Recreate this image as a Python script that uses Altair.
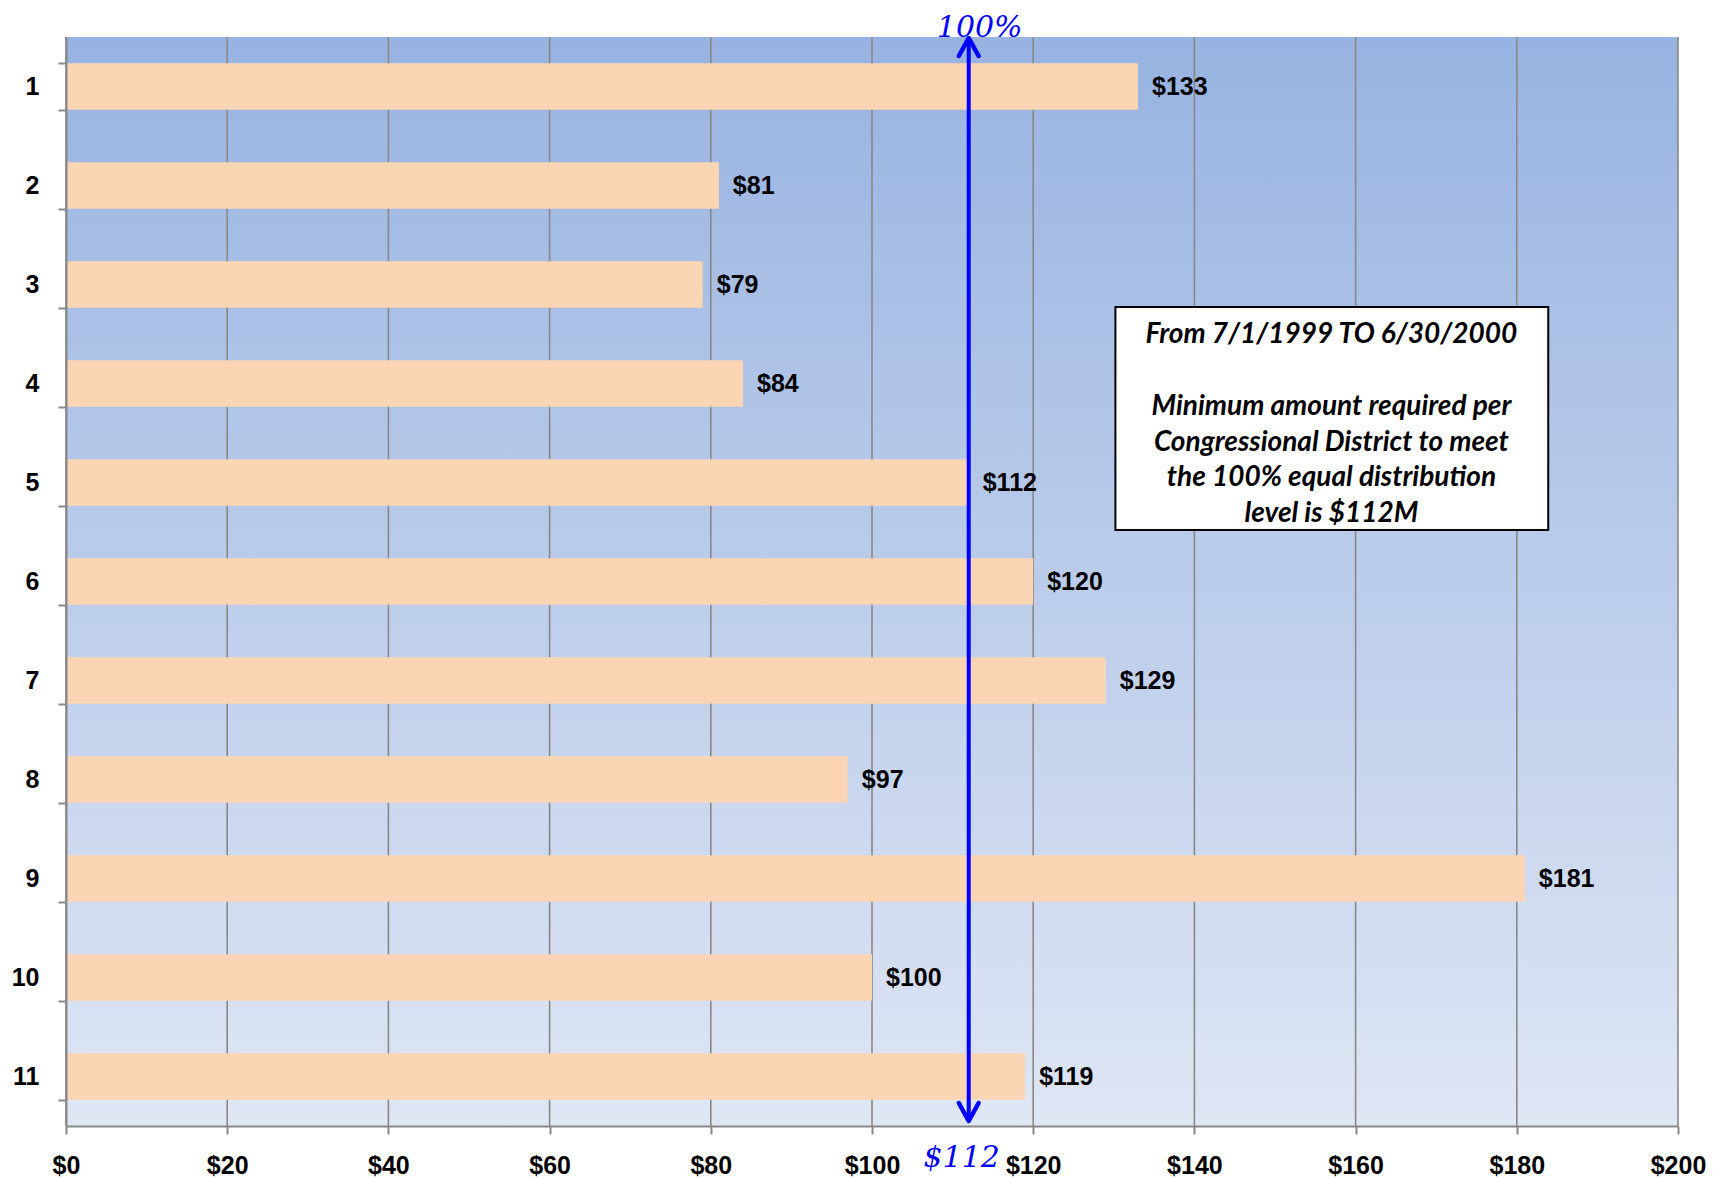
import altair as alt
import pandas as pd

districts = ["1", "2", "3", "4", "5", "6", "7", "8", "9", "10", "11"]
amounts = [133, 81, 79, 84, 112, 120, 129, 97, 181, 100, 119]
value_labels = ["$133", "$81", "$79", "$84", "$112", "$120", "$129", "$97", "$181", "$100", "$119"]
x_ticks = [0, 20, 40, 60, 80, 100, 120, 140, 160, 180, 200]
equal_level = [112]
top_label = ["100%"]
bottom_label = ["$112"]
note_x = [157]
note_box_x = [130.2, 183.9]
note_title = "From 7/1/1999 TO 6/30/2000"
note_lines = ["Minimum amount required per",
              "Congressional District to meet", "the 100% equal distribution",
              "level is $112M"]

W, H = 1612, 1089

df = pd.DataFrame({"district": districts, "amount": amounts, "label": value_labels})
grid_df = pd.DataFrame({"v": x_ticks})
arrow_df = pd.DataFrame({"x": equal_level, "top": top_label, "bottom": bottom_label})
note_df = pd.DataFrame({"x": note_x, "x1": [note_box_x[0]], "x2": [note_box_x[1]],
                        "title": [note_title]})

xscale = alt.Scale(domain=[0, 200], nice=False, zero=True)
xaxis = alt.Axis(title=None, values=x_ticks, labelExpr="'$' + datum.value",
                 grid=False, tickSize=8, tickColor="#888888", tickWidth=2,
                 domainColor="#888888", domainWidth=2,
                 labelFont="Liberation Sans", labelFontWeight="bold",
                 labelFontSize=25, labelColor="black", labelPadding=19,
                 labelFlush=False, labelOverlap=False, zindex=1)


def X(field):
    return alt.X(field, type="quantitative", scale=xscale, axis=xaxis)


yaxis = alt.Axis(title=None, tickBand="extent", tickSize=8, tickColor="#888888",
                 tickWidth=2, domainColor="#888888", domainWidth=2,
                 labelFont="Liberation Sans", labelFontWeight="bold",
                 labelFontSize=25, labelColor="black", labelPadding=19,
                 grid=False, zindex=1)
Y = alt.Y("district:N", sort=districts,
          scale=alt.Scale(paddingInner=0.53, paddingOuter=0.265), axis=yaxis)

bg = alt.Chart(pd.DataFrame({"a": [0]})).mark_rect(
    color=alt.LinearGradient(gradient="linear",
                             stops=[alt.GradientStop(color="#98B3E1", offset=0),
                                    alt.GradientStop(color="#DFE6F4", offset=1)],
                             x1=0, x2=0, y1=0, y2=1)
).encode(x=alt.value(0), x2=alt.value(W), y=alt.value(0), y2=alt.value(H))

grid = alt.Chart(grid_df).mark_rule(color="#888888", strokeWidth=1.6).encode(
    x=X("v"), y=alt.value(0), y2=alt.value(H))

bars = alt.Chart(df).mark_bar(color="#FCD5B5").encode(x=X("amount"), y=Y)

labels = alt.Chart(df).mark_text(align="left", baseline="middle", dx=14,
                                 font="Liberation Sans", fontWeight="bold",
                                 fontSize=25, color="black").encode(
    x=X("amount"), y=Y, text="label:N")

arrow = alt.Chart(arrow_df).mark_rule(color="#0000FF", strokeWidth=4).encode(
    x=X("x"), y=alt.value(2), y2=alt.value(H - 6))

head_top = alt.Chart(arrow_df).mark_point(
    shape="M-0.55,1L0,0L0.55,1", size=1296, filled=False, strokeWidth=4.5,
    color="#0000FF", opacity=1, strokeJoin="round", strokeCap="round"
).encode(x=X("x"), y=alt.value(1))

head_bot = alt.Chart(arrow_df).mark_point(
    shape="M-0.55,-1L0,0L0.55,-1", size=1296, filled=False, strokeWidth=4.5,
    color="#0000FF", opacity=1, strokeJoin="round", strokeCap="round"
).encode(x=X("x"), y=alt.value(H - 5))

top_text = alt.Chart(arrow_df).mark_text(
    font="DejaVu Serif", fontStyle="italic", fontSize=30, color="#0000FF",
    baseline="alphabetic", align="center", dx=11
).encode(x=X("x"), y=alt.value(0), text="top:N")

bot_text = alt.Chart(arrow_df).mark_text(
    font="DejaVu Serif", fontStyle="italic", fontSize=30, color="#0000FF",
    baseline="alphabetic", align="center", dx=-7, dy=41
).encode(x=X("x"), y=alt.value(H), text="bottom:N")

box = alt.Chart(note_df).mark_rect(fill="white", stroke="black", strokeWidth=2).encode(
    x=X("x1"), x2="x2:Q", y=alt.value(270), y2=alt.value(493))

note_head = alt.Chart(note_df).mark_text(
    font="Lato", fontStyle="italic", fontWeight="bold",
    fontSize=28, color="black", align="center", baseline="middle"
).encode(x=X("x"), y=alt.value(298), text="title:N")

note = alt.Chart(note_df).mark_text(
    text=note_lines, font="Lato", fontStyle="italic", fontWeight="bold",
    fontSize=28, lineHeight=35.5, color="black", align="center", baseline="middle"
).encode(x=X("x"), y=alt.value(370))

chart = alt.layer(bg, grid, bars, labels, arrow, head_top, head_bot,
                  top_text, bot_text, box, note_head, note).properties(
    width=W, height=H,
    padding={"left": 58, "top": 29, "right": 33, "bottom": 56},
    autosize=alt.AutoSizeParams(type="none"),
).configure_view(stroke=None)

chart.save("out.html", embed_options={"renderer": "svg", "actions": False})
